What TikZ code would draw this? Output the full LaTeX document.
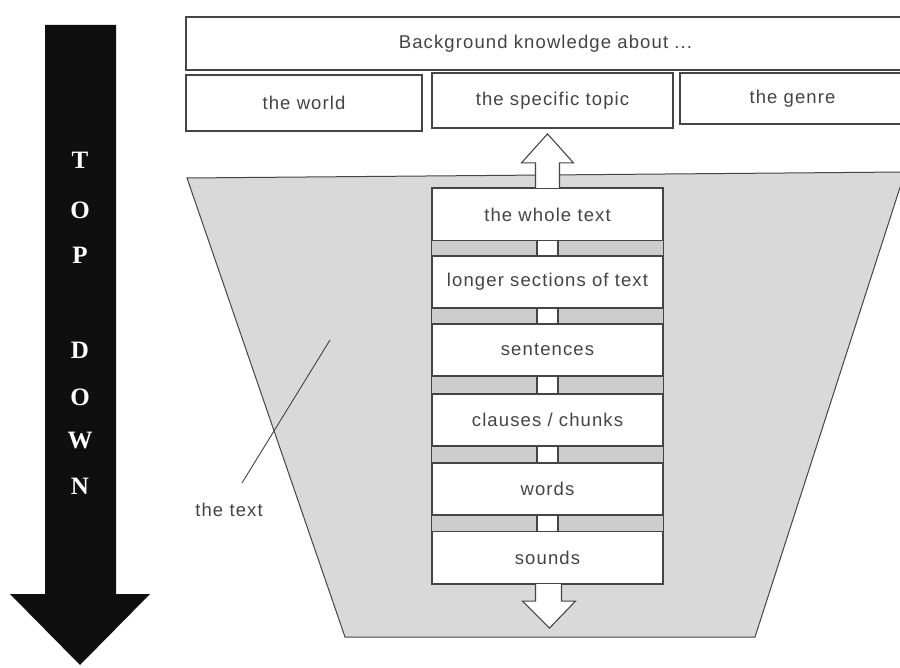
\documentclass[tikz,border=0pt]{standalone}
\usepackage{fontspec}
\setmainfont{Liberation Sans}
\newfontfamily\serifb{Liberation Serif}
\usetikzlibrary{calc,backgrounds}
\definecolor{txt}{HTML}{444444}
\definecolor{edge}{HTML}{454545}
\definecolor{funnel}{HTML}{D9D9D9}
\definecolor{band}{HTML}{CDCDCD}
\begin{document}
\begin{tikzpicture}[x=1pt,y=-1pt,
  lbl/.style={font=\fontsize{18.5}{20}\selectfont\addfontfeature{LetterSpace=6}, text=txt},
  kbox/.style={draw=edge, line width=1.2pt, fill=white, rectangle, inner sep=0pt, lbl},
  lvl/.style={kbox, minimum width=231pt, minimum height=52pt},
  letter/.style={text=white, font=\serifb\bfseries\fontsize{25}{27}\selectfont},
  hollow/.style={draw=edge, line width=1.1pt, fill=white, line join=miter},
  conn/.style={draw=edge, line width=1.1pt},
]
\useasboundingbox (0,0) rectangle (900,668);

% big arrow
\fill[black!94] (45,25) -- (116,25) -- (116,594) -- (150,594) -- (80,665) -- (10,594) -- (45,594) -- cycle;
\node[letter] (l1) at (80,160) {T};
\node[letter] (l2) at (80,210) {O};
\node[letter] (l3) at (80,255) {P};
\node[letter] (l4) at (80,350) {D};
\node[letter] (l5) at (80,397) {O};
\node[letter] (l6) at (80,441) {W};
\node[letter] (l7) at (80,486) {N};

% background knowledge boxes
\node[kbox, minimum width=719pt, minimum height=53pt] (bk) at (545.5,43.5) {Background knowledge about ...};
\node[kbox, minimum width=236pt, minimum height=56pt] (world) at (304,103) {the world};
\node[kbox, minimum width=241pt, minimum height=55pt] (topic) at (552.5,100.5) {the specific topic};
\node[kbox, minimum width=225pt, minimum height=51pt] (genre) at (792.5,98.5) {the genre};

% levels
\node[lvl] (b1) at (547.5,214.5) {the whole text};
\node[lvl] (b2) at (547.5,282) {longer sections of text};
\node[lvl] (b3) at (547.5,350) {sentences};
\node[lvl] (b4) at (547.5,420) {clauses / chunks};
\node[lvl] (b5) at (547.5,489) {words};
\node[lvl] (b6) at (547.5,557.5) {sounds};

\begin{scope}[on background layer]
  \fill[white] (0,0) rectangle (900,668);
  \draw[edge, fill=funnel, line width=1pt] (187,178) -- (905,172) -- (755,637) -- (345,637) -- cycle;
  \draw[edge, fill=band, line width=0.8pt] (b1.north west) rectangle (b6.south east);
\end{scope}

% connectors between levels
\foreach \a/\b in {b1/b2,b2/b3,b3/b4,b4/b5,b5/b6}{
  \fill[white] ($(\a.south)+(-10.5,0)$) rectangle ($(\b.north)+(10.5,0)$);
  \draw[conn] ($(\a.south)+(-10.5,0)$) -- ($(\b.north)+(-10.5,0)$);
  \draw[conn] ($(\a.south)+(10.5,0)$) -- ($(\b.north)+(10.5,0)$);
}

% up arrow
\draw[hollow] ($(b1.north)+(-12,0)$) -- ($(b1.north)+(-12,-25)$) -- ($(b1.north)+(-26,-25)$)
  -- ($(b1.north)+(0,-54)$) -- ($(b1.north)+(26,-25)$) -- ($(b1.north)+(12,-25)$) -- ($(b1.north)+(12,0)$);
% down arrow
\draw[hollow] ($(b6.south)+(-12,0)$) -- ($(b6.south)+(-12,17)$) -- ($(b6.south)+(-25,17)$)
  -- ($(b6.south)+(2,44)$) -- ($(b6.south)+(28,17)$) -- ($(b6.south)+(14,17)$) -- ($(b6.south)+(14,0)$);

% the text label
\node[lbl] (tl) at (229,510) {the text};
\coordinate (tlfoot) at (242,483);
\coordinate (tlhead) at (330,340);
\draw[edge, line width=0.9pt] (tlfoot) -- (tlhead);
\end{tikzpicture}
\end{document}
